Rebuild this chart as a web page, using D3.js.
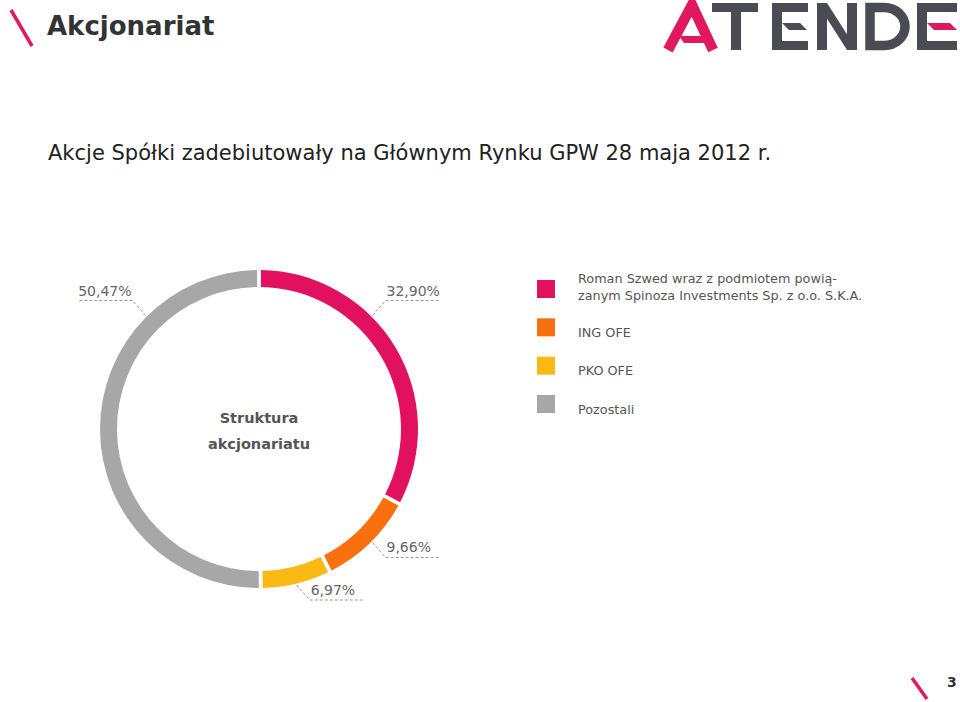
<!DOCTYPE html>
<html><head><meta charset="utf-8">
<script src="https://cdn.jsdelivr.net/npm/d3@7"></script>
<style>body{margin:0;background:#fff}svg{display:block}</style>
</head><body>
<svg id="c" width="960" height="702"></svg>
<script>
const categories = ["Roman Szwed wraz z podmiotem powią-|zanym Spinoza Investments Sp. z o.o. S.K.A.", "ING OFE", "PKO OFE", "Pozostali"];
const values = [32.90, 9.66, 6.97, 50.47];
const valueLabels = ["32,90%", "9,66%", "6,97%", "50,47%"];
const colors = ["#e2115f", "#f9700e", "#fdb913", "#a7a7a7"];
const title = "Akcjonariat";
const subtitle = "Akcje Spółki zadebiutowały na Głównym Rynku GPW 28 maja 2012 r.";
const centerText = ["Struktura", "akcjonariatu"];
const pageNumber = "3";

const svg = d3.select("#c");
const pink = "#e0195f", dark = "#4b4b53";

// header slash + title
svg.append("line").attr("x1", 11).attr("y1", 10).attr("x2", 32).attr("y2", 46)
  .attr("stroke", pink).attr("stroke-width", 3.5);
svg.append("text").attr("x", 47).attr("y", 35).text(title)
  .attr("font-family", "DejaVu Sans").attr("font-weight", "bold").attr("font-size", 26).attr("fill", "#333");

// logo
const logo = svg.append("g");
logo.append("path").attr("d", "M668,50 L692,5 L713,50").attr("fill", "none").attr("stroke", pink).attr("stroke-width", 10.5).attr("stroke-linejoin", "miter");
logo.append("path").attr("d", "M679,36 L703,36 L708,43 L684,43 Z").attr("fill", pink);
logo.append("rect").attr("x", 712).attr("y", 3).attr("width", 46).attr("height", 9).attr("fill", dark);
logo.append("rect").attr("x", 731).attr("y", 3).attr("width", 10).attr("height", 47).attr("fill", dark);
// E1
logo.append("rect").attr("x", 772).attr("y", 3).attr("width", 10).attr("height", 47).attr("fill", dark);
logo.append("rect").attr("x", 772).attr("y", 3).attr("width", 36).attr("height", 9).attr("fill", dark);
logo.append("rect").attr("x", 772).attr("y", 41).attr("width", 36).attr("height", 9).attr("fill", dark);
logo.append("path").attr("d", "M782,23 L800,23 L807,30 L789,30 Z").attr("fill", dark);
// N
logo.append("rect").attr("x", 817).attr("y", 3).attr("width", 10).attr("height", 47).attr("fill", dark);
logo.append("rect").attr("x", 847).attr("y", 3).attr("width", 10).attr("height", 47).attr("fill", dark);
logo.append("path").attr("d", "M817,3 L827,3 L857,50 L847,50 Z").attr("fill", dark);
// D
logo.append("path").attr("d", "M870,7.5 H884 A21,19 0 0 1 905,26.5 A21,19 0 0 1 884,45.5 H870 Z").attr("fill", "none").attr("stroke", dark).attr("stroke-width", 9.5);
// E2
logo.append("rect").attr("x", 917).attr("y", 3).attr("width", 10).attr("height", 47).attr("fill", dark);
logo.append("rect").attr("x", 917).attr("y", 3).attr("width", 40).attr("height", 9).attr("fill", dark);
logo.append("rect").attr("x", 917).attr("y", 41).attr("width", 40).attr("height", 9).attr("fill", dark);
logo.append("path").attr("d", "M927,23 L950,23 L957,30 L934,30 Z").attr("fill", pink);

// subtitle
svg.append("text").attr("x", 48).attr("y", 160).text(subtitle)
  .attr("font-family", "DejaVu Sans").attr("font-size", 21).attr("fill", "#222");

// donut
const cx = 259, cy = 429, rOut = 159, rIn = 142;
const g = svg.append("g").attr("transform", `translate(${cx},${cy})`);
const pie = d3.pie().sort(null).value(d => d).padAngle(0.018);
const arcs = pie(values);
const arc = d3.arc().innerRadius(rIn).outerRadius(rOut);
g.selectAll("path.slice").data(arcs).enter().append("path").attr("class", "slice")
  .attr("d", arc).attr("fill", (d, i) => colors[i]);

// labels: anchor at the last diagonal inside the slice if any, else at centroid angle
arcs.forEach((d, i) => {
  let a = (d.startAngle + d.endAngle) / 2;
  for (let k = 0; k < 4; k++) {
    const diag = Math.PI / 4 + k * Math.PI / 2;
    if (diag > d.startAngle && diag < d.endAngle) a = diag;
  }
  const sx = Math.sin(a) >= 0 ? 1 : -1, sy = -Math.cos(a) >= 0 ? 1 : -1;
  const p0 = [Math.sin(a) * (rOut + 1.5), -Math.cos(a) * (rOut + 1.5)];
  const p1 = [p0[0] + sx * 13, p0[1] + sy * 15];
  const len = 54;
  const p2 = [p1[0] + sx * len, p1[1]];
  g.append("path").attr("d", `M${p0}L${p1}L${p2}`).attr("fill", "none")
    .attr("stroke", "#9a9a9a").attr("stroke-width", 1).attr("stroke-dasharray", "3,2");
  g.append("text").attr("x", p1[0] + sx * 1).attr("y", p1[1] - 5)
    .attr("text-anchor", sx > 0 ? "start" : "end").text(valueLabels[i])
    .attr("font-family", "DejaVu Sans").attr("font-size", 14).attr("fill", "#666");
});

g.selectAll("text.center").data(centerText).enter().append("text").attr("class", "center")
  .attr("x", 0).attr("y", (d, i) => -6 + i * 26).attr("text-anchor", "middle").text(d => d)
  .attr("font-family", "DejaVu Sans").attr("font-weight", "bold").attr("font-size", 14.5).attr("fill", "#555");

// legend
const ly = d3.scalePoint().domain(d3.range(categories.length)).range([289, 404]);
const leg = svg.append("g");
categories.forEach((c, i) => {
  const y = ly(i);
  leg.append("rect").attr("x", 537).attr("y", y - 9).attr("width", 18).attr("height", 18).attr("fill", colors[i]);
  const lines = c.split("|");
  const t = leg.append("text").attr("font-family", "DejaVu Sans").attr("font-size", 12.8).attr("fill", "#555");
  lines.forEach((l, j) => {
    const by = lines.length > 1 ? y - 6 + j * 17 : y + 9.5;
    t.append("tspan").attr("x", 578).attr("y", by).text(l);
  });
});

// footer
svg.append("line").attr("x1", 912).attr("y1", 678).attr("x2", 927).attr("y2", 699)
  .attr("stroke", pink).attr("stroke-width", 3.5);
svg.append("text").attr("x", 947).attr("y", 687).text(pageNumber)
  .attr("font-family", "DejaVu Sans").attr("font-weight", "bold").attr("font-size", 14).attr("fill", "#333");
</script>
</body></html>
